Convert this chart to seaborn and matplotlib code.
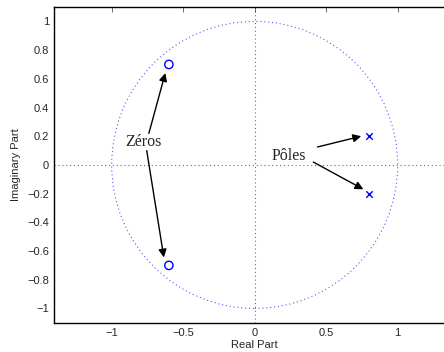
import matplotlib
matplotlib.use('Agg')
import matplotlib.pyplot as plt
import seaborn as sn
import pandas as pd
from matplotlib.patches import Circle

# zeros and poles of the filter
ZEROS_RE = [-0.6, -0.6]
ZEROS_IM = [0.7, -0.7]
POLES_RE = [0.8, 0.8]
POLES_IM = [0.2, -0.2]

X_TICKS = [-1, -0.5, 0, 0.5, 1]
Y_TICKS = [-1, -0.8, -0.6, -0.4, -0.2, 0, 0.2, 0.4, 0.6, 0.8, 1]

ZEROS_LABEL = 'Zéros'
POLES_LABEL = 'Pôles'


def fmt_tick(v):
    return ('%g' % v).replace('-', '\u2212')


def main():
    sn.set_style('white')
    plt.rcParams['font.family'] = ['Liberation Sans', 'DejaVu Sans']

    fig = plt.figure(figsize=(4.44, 3.52), dpi=100)
    # axes runs past the right edge, like the cropped original
    ax = fig.add_axes([0.1227, 0.083, 0.9018, 0.897])

    blue = '#0000ff'
    dots = dict(ls=(0, (1, 2.5)), lw=0.8, color=blue, alpha=0.65)
    ax.add_patch(Circle((0, 0), 1, fill=False, **dots))
    ax.axhline(0, **dots)
    ax.axvline(0.003, **dots)

    zeros_df = pd.DataFrame({'re': ZEROS_RE, 'im': ZEROS_IM})
    poles_df = pd.DataFrame({'re': POLES_RE, 'im': POLES_IM})
    sn.scatterplot(data=zeros_df, x='re', y='im', marker='o', s=36,
                   facecolor='none', edgecolor=blue, linewidth=1.0, ax=ax, zorder=5)
    sn.scatterplot(data=poles_df, x='re', y='im', marker='x', s=22,
                   color=blue, linewidth=1.0, ax=ax, zorder=5)

    serif = ['Liberation Serif', 'DejaVu Serif']
    ax.text(-0.905, 0.16, ZEROS_LABEL, family=serif, fontsize=11.5, ha='left', va='center')
    ax.text(0.117, 0.06, POLES_LABEL, family=serif, fontsize=11.5, ha='left', va='center')

    arrows = [((-0.74, 0.22), (-0.625, 0.64)),
              ((-0.755, 0.10), (-0.635, -0.645)),
              ((0.44, 0.125), (0.745, 0.20)),
              ((0.41, 0.02), (0.76, -0.17))]
    for tail, head in arrows:
        ax.annotate('', xy=head, xytext=tail,
                    arrowprops=dict(arrowstyle='-|>', color='black', lw=1.0,
                                    mutation_scale=12, shrinkA=0, shrinkB=0))

    ax.set_xlim(-1.4, 1.4)
    ax.set_ylim(-1.1, 1.1)
    ax.set_xticks(X_TICKS)
    ax.set_xticklabels([fmt_tick(v) for v in X_TICKS])
    ax.set_yticks(Y_TICKS)
    ax.set_yticklabels([fmt_tick(v) for v in Y_TICKS])
    ax.tick_params(direction='in', length=3.5, width=0.6, labelsize=8,
                   top=True, right=True, color='#555555', pad=4)
    ax.set_xlabel('Real Part', fontsize=8, labelpad=1)
    ax.set_ylabel('Imaginary Part', fontsize=8, labelpad=4)
    for s in ax.spines.values():
        s.set_color('black')
        s.set_linewidth(1.0)

    fig.savefig('out.png', dpi=100)


if __name__ == '__main__':
    main()
